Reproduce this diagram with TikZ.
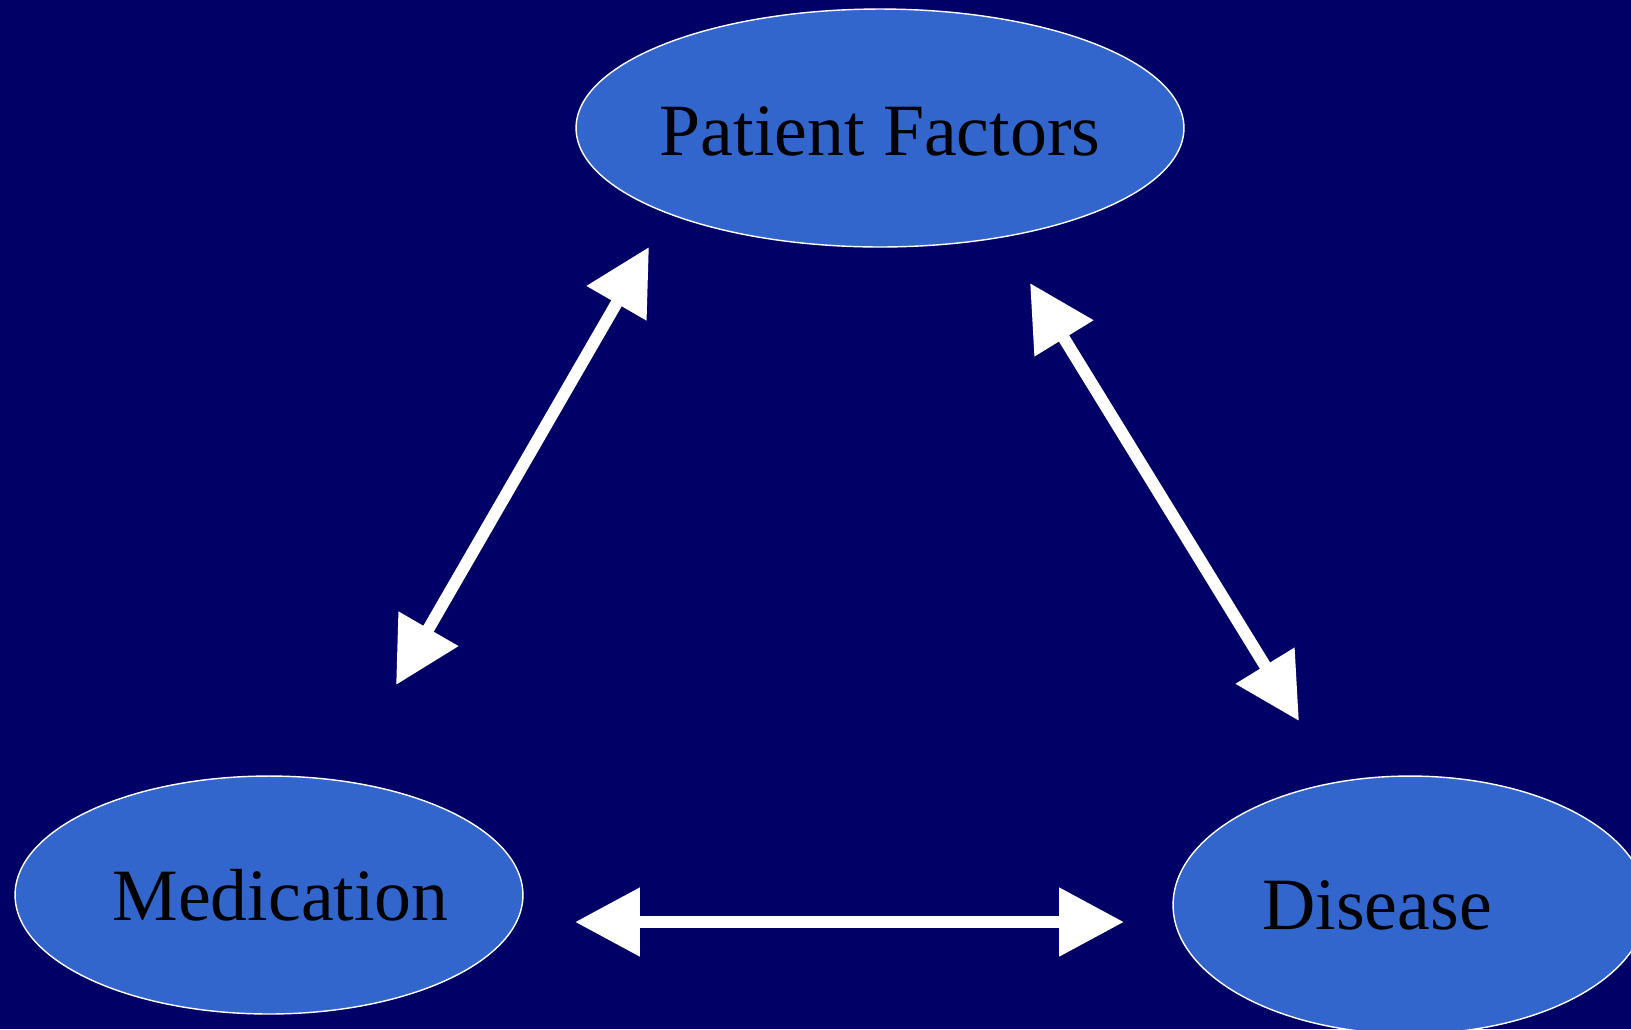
\documentclass[tikz,border=0pt]{standalone}
\usepackage{fontspec}
\setmainfont{Liberation Serif}
\usetikzlibrary{arrows.meta,shapes.geometric}
\definecolor{slidebg}{RGB}{0,0,102}
\definecolor{ovalfill}{RGB}{51,102,204}

\tikzset{
  ovaltext/.style={font=\fontsize{42}{50}\selectfont, text=black},
  oval/.style={ellipse, draw=white, line width=0.8pt, fill=ovalfill, inner sep=0pt, ovaltext},
  link/.style={white, line width=0.24cm, {Triangle[length=1.3cm,width=1.32cm]}-{Triangle[length=1.3cm,width=1.32cm]}}
}

\begin{document}
\begin{tikzpicture}[x=0.02cm,y=-0.02cm]

    % slide
    \fill[slidebg] (0,0) rectangle (1631,1029);
    \clip (0,0) rectangle (1631,1029);

    % ovals
    \node[oval, minimum width=12.16cm, minimum height=4.76cm,
          label={[ovaltext, yshift=-0.06cm]center:Patient Factors}] (pf) at (880,128) {};
    \node[oval, minimum width=10.16cm, minimum height=4.76cm,
          label={[ovaltext, xshift=0.23cm]center:Medication}] (med) at (269,895) {};
    \node[oval, minimum width=9.48cm, minimum height=5.16cm,
          label={[ovaltext, xshift=-0.66cm]center:Disease}] (dis) at (1410,905) {};

    % arrow ends
    \coordinate (pf-l) at (649,247);
    \coordinate (med-t) at (396,685);
    \coordinate (pf-r) at (1030,283);
    \coordinate (dis-t) at (1299,721);
    \coordinate (med-r) at (575,922);
    \coordinate (dis-l) at (1124,922);

    % links
    \draw[link] (pf-l) to (med-t); % pf <-> med
    \draw[link] (pf-r) to (dis-t); % pf <-> dis
    \draw[link] (med-r) to (dis-l); % med <-> dis

\end{tikzpicture}
\end{document}
